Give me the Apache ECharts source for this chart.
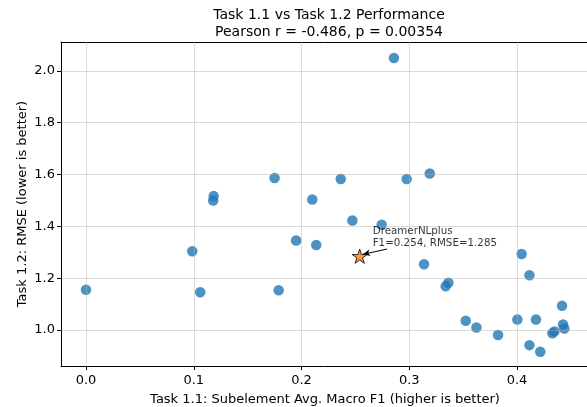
<!DOCTYPE html>
<html>
<head>
<meta charset="utf-8">
<script src="https://cdn.jsdelivr.net/npm/echarts@6/dist/echarts.min.js"></script>
<style>
html,body{margin:0;padding:0;background:#fff;}
#chart{width:587px;height:407px;}
</style>
</head>
<body>
<div id="chart"></div>
<script>
// ---- data ----
const f1Values = [0.000, 0.0986, 0.106, 0.118, 0.1185, 0.175, 0.1788, 0.195, 0.210, 0.2137,
  0.2364, 0.2472, 0.2744, 0.2858, 0.2976, 0.319, 0.3137, 0.3338, 0.3363, 0.3524,
  0.3623, 0.3824, 0.4003, 0.4043, 0.4115, 0.4115, 0.4176, 0.4216, 0.4328, 0.4347,
  0.4418, 0.4427, 0.4439];
const rmseValues = [1.156, 1.304, 1.146, 1.500, 1.517, 1.587, 1.154, 1.346, 1.504, 1.328,
  1.583, 1.423, 1.4065, 2.050, 1.583, 1.604, 1.254, 1.169, 1.183, 1.036,
  1.010, 0.981, 1.041, 1.2935, 1.2115, 0.942, 1.041, 0.9167, 0.988, 0.995,
  1.0935, 1.022, 1.0065];
const highlightName = 'DreamerNLplus';
const highlightF1 = 0.254;
const highlightRMSE = 1.285;
const xTicks = [0.0, 0.1, 0.2, 0.3, 0.4];
const yTicks = [1.0, 1.2, 1.4, 1.6, 1.8, 2.0];
const titleText = 'Task 1.1 vs Task 1.2 Performance';
const subtitleText = 'Pearson r = -0.486, p = 0.00354';
const xLabel = 'Task 1.1: Subelement Avg. Macro F1 (higher is better)';
const yLabel = 'Task 1.2: RMSE (lower is better)';

// axis limits and annotation offsets (data units)
const xMin = -0.0232, xMax = 0.4668;
const yMin = 0.8615, yMax = 2.1115;
const arrowTail = [0.0253, 0.0277];
const arrowHead = [0.0031, 0.0073];

const FONT = 'DejaVu Sans';
const starPath = 'path://M0,-100 L22.45,-30.9 L95.1,-30.9 L36.3,11.8 L58.8,80.9 L0,38.2 L-58.8,80.9 L-36.3,11.8 L-95.1,-30.9 L-22.45,-30.9 Z';

const points = f1Values.map((v, i) => [v, rmseValues[i]]);

const chart = echarts.init(document.getElementById('chart'), null, {renderer: 'canvas'});

const gridLineX = xTicks.map(v => ({xAxis: v}));
const gridLineY = yTicks.map(v => ({yAxis: v}));

chart.setOption({
  animation: false,
  backgroundColor: '#ffffff',
  textStyle: {fontFamily: FONT},
  title: {
    text: titleText + '\n' + subtitleText,
    left: 324, top: 2, textAlign: 'center',
    textStyle: {fontFamily: FONT, fontSize: 14, fontWeight: 'normal', color: '#000', lineHeight: 17}
  },
  grid: {left: 61, right: -2, top: 42, bottom: 41, containLabel: false, outerBoundsMode: 'none'},
  xAxis: [{
    type: 'value', min: xMin, max: xMax, position: 'bottom',
    name: xLabel, nameLocation: 'middle', nameGap: 27,
    nameTextStyle: {fontFamily: FONT, fontSize: 13, color: '#000'},
    axisLine: {show: true, onZero: false, lineStyle: {color: '#000', width: 1}},
    axisTick: {show: true, length: 4, inside: false, customValues: xTicks, lineStyle: {color: '#000'}},
    axisLabel: {customValues: xTicks, fontFamily: FONT, fontSize: 13, color: '#000', margin: 8,
      formatter: v => v.toFixed(1)},
    splitLine: {show: false}
  }, {
    type: 'value', min: xMin, max: xMax, position: 'top',
    axisLine: {show: true, onZero: false, lineStyle: {color: '#000', width: 1}},
    axisTick: {show: false}, axisLabel: {show: false}, splitLine: {show: false}
  }],
  yAxis: {
    type: 'value', min: yMin, max: yMax,
    name: yLabel, nameLocation: 'middle', nameGap: 32, nameRotate: 90, nameMoveOverlap: false,
    nameTextStyle: {fontFamily: FONT, fontSize: 13, color: '#000'},
    axisLine: {show: true, onZero: false, lineStyle: {color: '#000', width: 1}},
    axisTick: {show: true, length: 4, customValues: yTicks, lineStyle: {color: '#000'}},
    axisLabel: {customValues: yTicks, fontFamily: FONT, fontSize: 13, color: '#000', margin: 6,
      formatter: v => v.toFixed(1)},
    splitLine: {show: false}
  },
  series: [{
    type: 'scatter',
    data: points,
    symbolSize: 10.5,
    itemStyle: {color: '#1f77b4', opacity: 0.8},
    markLine: {
      silent: true, symbol: ['none', 'none'], animation: false,
      label: {show: false},
      lineStyle: {color: '#b0b0b0', opacity: 0.45, width: 1, type: 'solid'},
      data: gridLineX.concat(gridLineY)
    },
    z: 2
  }, {
    type: 'scatter',
    data: [[highlightF1, highlightRMSE]],
    symbol: starPath, symbolKeepAspect: true, symbolSize: [15, 15],
    itemStyle: {color: '#ff7f0e', borderColor: '#000', borderWidth: 1},
    label: {
      show: true, position: [21, -23], align: 'left', verticalAlign: 'top',
      formatter: highlightName + '\nF1=' + highlightF1.toFixed(3) + ', RMSE=' + highlightRMSE.toFixed(3),
      fontFamily: FONT, fontSize: 10.3, lineHeight: 12, color: '#000'
    },
    markLine: {
      silent: true, symbol: ['none', 'arrow'], symbolSize: [5, 7], animation: false,
      label: {show: false},
      lineStyle: {color: '#000', width: 1, type: 'solid', opacity: 1},
      data: [[
        {coord: [highlightF1 + arrowTail[0], highlightRMSE + arrowTail[1]]},
        {coord: [highlightF1 + arrowHead[0], highlightRMSE + arrowHead[1]]}
      ]]
    },
    z: 5
  }]
});
</script>
</body>
</html>
